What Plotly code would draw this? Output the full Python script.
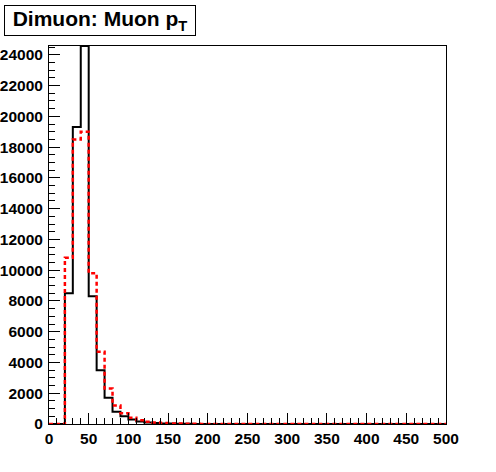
import numpy as np
import plotly.graph_objects as go

# Bin edges: 0..500, width 10
bin_low = list(range(0, 500, 10))
bin_high_last = 500

# Black (solid) histogram contents
black_counts = [0, 0, 8500, 19300, 24570, 8300, 3500, 1700, 800, 500,
                300, 170, 100, 60, 40, 25, 15, 10, 6, 4,
                3, 2, 1, 1, 0, 0, 0, 0, 0, 0,
                0, 0, 0, 0, 0, 0, 0, 0, 0, 0,
                0, 0, 0, 0, 0, 0, 0, 0, 0, 0]

# Red (dotted) histogram contents
red_counts = [0, 0, 10800, 18500, 19000, 9800, 4700, 2300, 1200, 700,
              400, 250, 150, 100, 60, 40, 25, 15, 10, 6,
              4, 3, 2, 1, 1, 0, 0, 0, 0, 0,
              0, 0, 0, 0, 0, 0, 0, 0, 0, 0,
              0, 0, 0, 0, 0, 0, 0, 0, 0, 0]

x_ticks = [0, 50, 100, 150, 200, 250, 300, 350, 400, 450, 500]
x_tick_labels = ["0", "50", "100", "150", "200", "250", "300", "350", "400", "450", "500"]
y_ticks = [0, 2000, 4000, 6000, 8000, 10000, 12000, 14000, 16000, 18000, 20000, 22000, 24000]
y_tick_labels = ["0", "2000", "4000", "6000", "8000", "10000", "12000", "14000",
                 "16000", "18000", "20000", "22000", "24000"]

title_text = "Dimuon: Muon p<sub>T</sub>"

def steps(counts):
    xs = bin_low + [bin_high_last]
    ys = list(counts) + [counts[-1]]
    return xs, ys

fig = go.Figure()
bx, by = steps(black_counts)
fig.add_trace(go.Scatter(x=bx, y=by, mode="lines", line_shape="hv",
                         line=dict(color="black", width=2), showlegend=False))
rx, ry = steps(red_counts)
fig.add_trace(go.Scatter(x=rx, y=ry, mode="lines", line_shape="hv",
                         line=dict(color="red", width=2.5, dash="4px,3px"), showlegend=False))

font_fam = "Liberation Sans, Arial, sans-serif"
tickfont = dict(family=font_fam, size=15.5, color="black", weight="bold")

fig.update_layout(
    width=496, height=472,
    margin=dict(l=49, r=50, t=46, b=48, autoexpand=False),
    paper_bgcolor="white", plot_bgcolor="white",
    showlegend=False,
    xaxis=dict(range=[0, 500], tickmode="array", tickvals=x_ticks, ticktext=x_tick_labels,
               ticks="inside", ticklen=11, tickcolor="black", tickwidth=1,
               minor=dict(ticks="inside", ticklen=6, dtick=10, tick0=0, tickcolor="black", showgrid=False),
               showgrid=False, zeroline=False, showline=True, linecolor="black",
               linewidth=1, mirror=True, tickfont=tickfont, automargin=False),
    yaxis=dict(range=[0, 24570], tickmode="array", tickvals=y_ticks, ticktext=y_tick_labels,
               ticks="inside", ticklen=11, tickcolor="black", tickwidth=1,
               minor=dict(ticks="inside", ticklen=6, dtick=500, tick0=0, tickcolor="black", showgrid=False),
               showgrid=False, zeroline=False, showline=True, linecolor="black",
               linewidth=1, mirror=True, tickfont=tickfont, ticklabelstandoff=2, automargin=False),
)

fig.add_annotation(
    text=title_text, xref="paper", yref="paper",
    x=(4 - 49) / 397, y=(424 - 5) / 378, xanchor="left", yanchor="top",
    showarrow=False, width=188, height=27, align="center", valign="middle",
    bordercolor="black", borderwidth=1, borderpad=1, bgcolor="white",
    font=dict(family=font_fam, size=21, color="black", weight="bold"),
)

# remove the browser's default 8px body margin so the figure sits at the page origin
fig.write_html("out.html", config={"displayModeBar": False},
               post_script="document.body.style.margin='0';")
